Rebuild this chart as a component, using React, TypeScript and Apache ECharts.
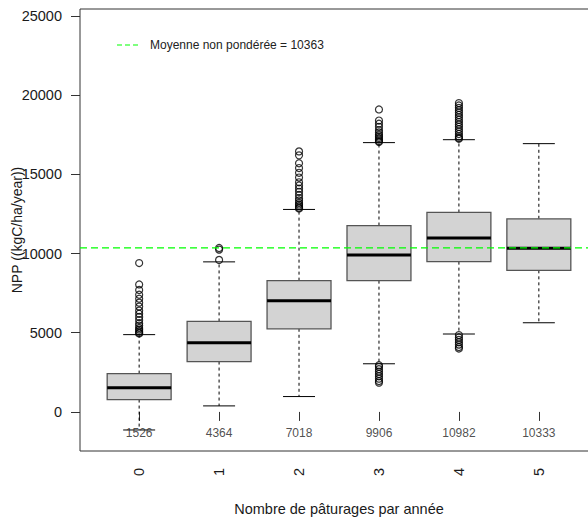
import React, { useEffect, useRef } from "react";
import * as echarts from "echarts";

// ---- data ----
const categories = ["0", "1", "2", "3", "4", "5"];
const whiskerLow = [-1140, 380, 970, 3040, 4920, 5630];
const q1Values = [780, 3180, 5250, 8290, 9490, 8940];
const medians = [1526, 4364, 7018, 9906, 10982, 10333];
const q3Values = [2420, 5715, 8290, 11770, 12595, 12195];
const whiskerHigh = [4880, 9475, 12785, 17005, 17190, 16940];
const outliers0 = [9400, 8050, 7700, 7400, 7150, 6900, 6650, 6400, 6200, 6000, 5800, 5600, 5450, 5300, 5200, 5100, 5000, 4950];
const outliers1 = [10350, 10250, 9600];
const outliers2 = [16450, 16200, 15700, 15400, 15100, 14800, 14500, 14300, 14100, 13900, 13700, 13500, 13350, 13200, 13100, 13000, 12900, 12850];
const outliers3 = [19100, 18400, 18200, 18000, 17800, 17650, 17500, 17400, 17300, 17200, 17100, 17050, 2950, 2850, 2700, 2550, 2400, 2250, 2100, 1950, 1850];
const outliers4 = [19500, 19350, 19200, 19050, 18900, 18750, 18600, 18450, 18300, 18150, 18000, 17850, 17700, 17550, 17400, 17300, 17250, 4850, 4700, 4550, 4400, 4250, 4100, 4000];
const outliers5: number[] = [];
const outlierLists = [outliers0, outliers1, outliers2, outliers3, outliers4, outliers5];
const meanValue = 10363;
const meanLabel = "Moyenne non pondérée = " + meanValue;
const yTicks = [0, 5000, 10000, 15000, 20000, 25000];
const xTitle = "Nombre de pâturages par année";
const yTitle = "NPP ((kgC/ha/year))";
const medianLabelY = -1330;

const FONT = "'Liberation Sans', Arial, Helvetica, sans-serif";

export default function App() {
  const ref = useRef<HTMLDivElement>(null);
  useEffect(() => {
    if (!ref.current) return;
    const chart = echarts.init(ref.current, null, { renderer: "svg" });
    const positions = categories.map((_, i) => i + 1);
    const boxData = positions.map((x, i) => [x, whiskerLow[i], q1Values[i], medians[i], q3Values[i], whiskerHigh[i]]);
    const outlierData: number[][] = [];
    outlierLists.forEach((list, i) => list.forEach((v) => outlierData.push([positions[i], v])));
    const labelData = positions.map((x, i) => [x, medianLabelY, medians[i]]);

    const option: any = {
      animation: false,
      grid: {
        left: 80, top: 9, width: 518, height: 442,
        containLabel: false, outerBoundsMode: "none",
        show: true, borderColor: "#333", borderWidth: 1, backgroundColor: "transparent",
      },
      xAxis: {
        type: "value",
        min: 0.26,
        max: 6.74,
        splitLine: { show: false },
        axisLine: { show: false },
        axisTick: { show: true, length: 9, lineStyle: { color: "#333" }, customValues: positions },
        axisLabel: {
          customValues: positions,
          formatter: (v: number) => categories[Math.round(v) - 1] ?? "",
          rotate: 90,
          margin: 17,
          fontSize: 14.5,
          fontFamily: FONT,
          color: "#1a1a1a",
          padding: [0, 0, 0, 0],
        },
        name: xTitle,
        nameLocation: "middle",
        nameGap: 50,
        nameMoveOverlap: false,
        nameTextStyle: { fontSize: 14.5, fontFamily: FONT, color: "#1a1a1a" },
      },
      yAxis: {
        type: "value",
        min: -2468,
        max: 25443,
        splitLine: { show: false },
        axisLine: { show: false },
        axisTick: { show: true, length: 9, lineStyle: { color: "#333" }, customValues: yTicks },
        axisLabel: { customValues: yTicks, formatter: (v: number) => String(v), margin: 18, fontSize: 14.5, fontFamily: FONT, color: "#1a1a1a" },
        name: yTitle,
        nameLocation: "middle",
        nameGap: 56,
        nameMoveOverlap: false,
        nameTextStyle: { fontSize: 14, fontFamily: FONT, color: "#1a1a1a" },
      },
      series: [
        {
          type: "custom",
          data: boxData,
          z: 2,
          renderItem: (params: any, api: any) => {
            const x = api.value(0);
            const lo = api.coord([x, api.value(1)]);
            const q1 = api.coord([x, api.value(2)]);
            const med = api.coord([x, api.value(3)]);
            const q3 = api.coord([x, api.value(4)]);
            const hi = api.coord([x, api.value(5)]);
            const halfW = api.size([0.8, 0])[0] / 2;
            const capW = halfW / 2;
            const cx = q1[0];
            const dashed = { stroke: "#000", lineWidth: 1, lineDash: [3, 3] };
            const solid = { stroke: "#000", lineWidth: 1 };
            return {
              type: "group",
              children: [
                { type: "line", shape: { x1: cx, y1: q3[1], x2: cx, y2: hi[1] }, style: dashed },
                { type: "line", shape: { x1: cx, y1: q1[1], x2: cx, y2: lo[1] }, style: dashed },
                { type: "line", shape: { x1: cx - capW, y1: hi[1], x2: cx + capW, y2: hi[1] }, style: solid },
                { type: "line", shape: { x1: cx - capW, y1: lo[1], x2: cx + capW, y2: lo[1] }, style: solid },
                {
                  type: "rect",
                  shape: { x: cx - halfW, y: q3[1], width: 2 * halfW, height: q1[1] - q3[1] },
                  style: { fill: "#d3d3d3", stroke: "#555", lineWidth: 1.3 },
                },
                { type: "line", shape: { x1: cx - halfW, y1: med[1], x2: cx + halfW, y2: med[1] }, style: { stroke: "#000", lineWidth: 3 } },
              ],
            };
          },
        },
        {
          type: "scatter",
          data: outlierData,
          symbol: "circle",
          symbolSize: 7,
          z: 3,
          itemStyle: { color: "rgba(0,0,0,0)", borderColor: "#000", borderWidth: 1.2 },
        },
        {
          type: "scatter",
          data: labelData,
          symbolSize: 0,
          z: 4,
          label: {
            show: true,
            position: "inside",
            formatter: (p: any) => String(p.value[2]),
            fontSize: 12,
            fontFamily: FONT,
            color: "#222",
          },
        },
        {
          type: "line",
          data: [[0.26, meanValue], [6.74, meanValue]],
          symbol: "none",
          z: 5,
          lineStyle: { color: "#00ff00", width: 1.2, type: [7, 4] },
        },
      ],
      graphic: [
        { type: "line", shape: { x1: 117, y1: 45, x2: 139, y2: 45 }, style: { stroke: "#00ff00", lineWidth: 1.2, lineDash: [5, 3] } },
        { type: "text", x: 150, y: 45, style: { text: meanLabel, fontSize: 12, fontFamily: FONT, fill: "#222", verticalAlign: "middle" } },
      ],
    };
    chart.setOption(option);
    return () => chart.dispose();
  }, []);
  return <div ref={ref} style={{ position: "absolute", left: 0, top: 0, width: 588, height: 517 }} />;
}
